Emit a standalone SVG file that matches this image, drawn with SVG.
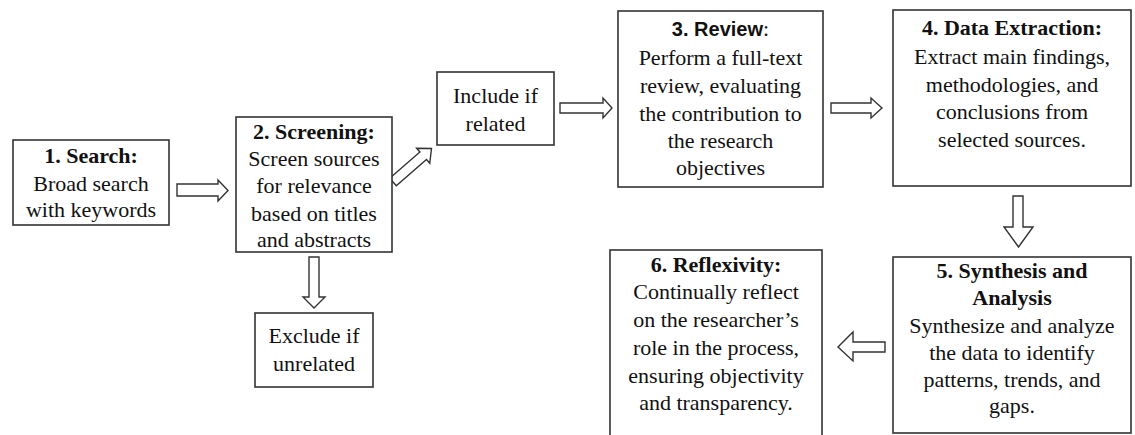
<svg xmlns="http://www.w3.org/2000/svg" width="1135" height="435" viewBox="0 0 1135 435">
  <style>
    .box { fill: #ffffff; stroke: #333333; stroke-width: 1.6; }
    .arrow { fill: #ffffff; stroke: #333333; stroke-width: 1.4; stroke-linejoin: miter; }
    text { font-family: "Liberation Serif", "Times New Roman", serif; font-size: 22px; fill: #111111; text-anchor: middle; }
    .b { font-weight: bold; }
    .sans { font-family: "Liberation Sans", Arial, sans-serif; font-size: 20px; font-weight: bold; }
  </style>
  <rect width="1135" height="435" fill="#ffffff"/>

  <g id="connectors">
    <path class="arrow" d="M177,184 H218 V180 L228,190.5 L218,201 V196 H177 Z"/>
    <path class="arrow" transform="translate(393,182) rotate(-41)" d="M0,-5 H40 V-10 L51,0 L40,10 V5 H0 Z"/>
    <path class="arrow" d="M560,103 H603 V98 L612,108 L603,118 V113 H560 Z"/>
    <path class="arrow" d="M831,103 H871 V98 L882,108 L871,118 V113 H831 Z"/>
    <path class="arrow" d="M1013,196 V227 H1004 L1018.5,247 L1033,227 H1023 V196 Z"/>
    <path class="arrow" d="M885,342 H853 V332 L838,347 L853,361 V352 H885 Z"/>
    <path class="arrow" d="M309,257 V297 H303 L314,308 L325,297 H319 V257 Z"/>
  </g>

  <g id="search">
    <rect class="box" x="13" y="140" width="156" height="85"/>
    <text x="91" y="163" class="b">1. Search:</text>
    <text x="91" y="191">Broad search</text>
    <text x="91" y="217">with keywords</text>
  </g>

  <g id="screening">
    <rect class="box" x="236" y="117" width="156" height="135"/>
    <text x="314" y="139" class="b">2. Screening:</text>
    <text x="314" y="166">Screen sources</text>
    <text x="314" y="193">for relevance</text>
    <text x="314" y="221">based on titles</text>
    <text x="314" y="247">and abstracts</text>
  </g>

  <g id="include">
    <rect class="box" x="437" y="72" width="117" height="73"/>
    <text x="495.5" y="103">Include if</text>
    <text x="495.5" y="131">related</text>
  </g>

  <g id="exclude">
    <rect class="box" x="255" y="313" width="118" height="74"/>
    <text x="314" y="343">Exclude if</text>
    <text x="314" y="371">unrelated</text>
  </g>

  <g id="review">
    <rect class="box" x="618" y="11" width="205" height="176"/>
    <text x="720.5" y="36"><tspan class="sans">3. Review</tspan>:</text>
    <text x="720.5" y="65">Perform a full-text</text>
    <text x="720.5" y="93">review, evaluating</text>
    <text x="720.5" y="121">the contribution to</text>
    <text x="720.5" y="148">the research</text>
    <text x="720.5" y="175">objectives</text>
  </g>

  <g id="extraction">
    <rect class="box" x="893" y="10" width="238" height="176"/>
    <text x="1012" y="35" class="b">4. Data Extraction:</text>
    <text x="1012" y="64">Extract main findings,</text>
    <text x="1012" y="92">methodologies, and</text>
    <text x="1012" y="119">conclusions from</text>
    <text x="1012" y="147">selected sources.</text>
  </g>

  <g id="synthesis">
    <rect class="box" x="893" y="257" width="238" height="176"/>
    <text x="1012" y="278" class="b">5. Synthesis and</text>
    <text x="1012" y="305" class="b">Analysis</text>
    <text x="1012" y="333">Synthesize and analyze</text>
    <text x="1012" y="360">the data to identify</text>
    <text x="1012" y="387">patterns, trends, and</text>
    <text x="1012" y="413">gaps.</text>
  </g>

  <g id="reflexivity">
    <rect class="box" x="610" y="250" width="212" height="200"/>
    <text x="716" y="272" class="b">6. Reflexivity:</text>
    <text x="716" y="299">Continually reflect</text>
    <text x="716" y="327">on the researcher’s</text>
    <text x="716" y="355">role in the process,</text>
    <text x="716" y="383">ensuring objectivity</text>
    <text x="716" y="410">and transparency.</text>
  </g>
</svg>
